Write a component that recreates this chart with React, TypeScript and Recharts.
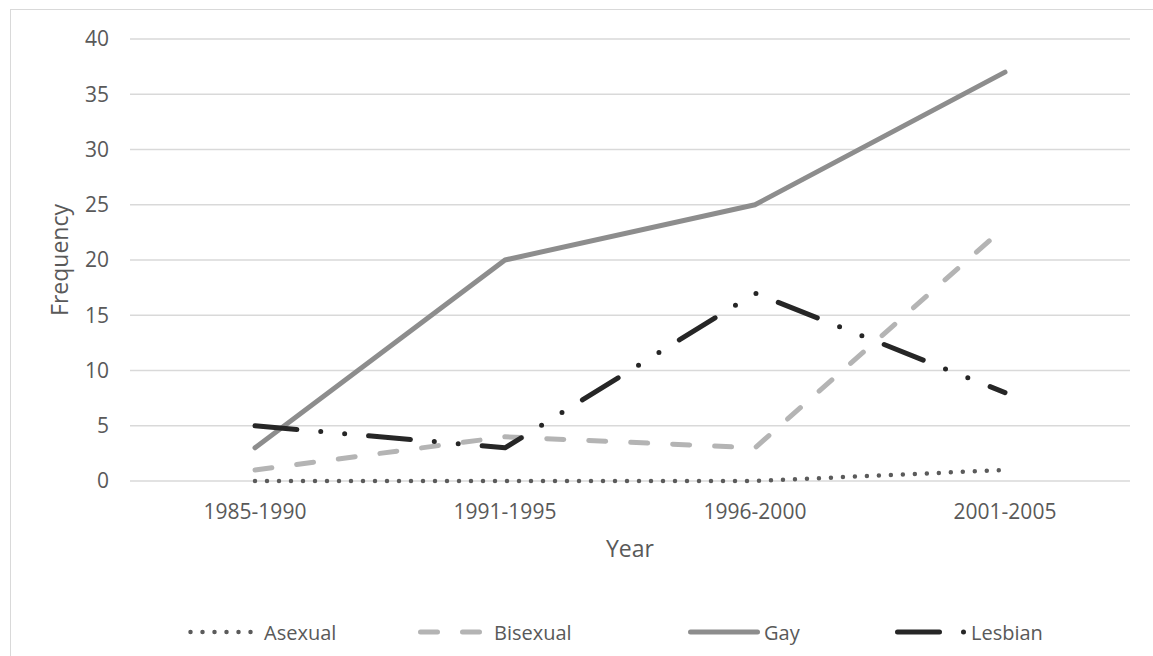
import { CartesianGrid, Label, Line, LineChart, XAxis, YAxis } from "recharts";

const YEARS = ["1985-1990", "1991-1995", "1996-2000", "2001-2005"];
const ASEXUAL = [0, 0, 0, 1];
const BISEXUAL = [1, 4, 3, 23];
const GAY = [3, 20, 25, 37];
const LESBIAN = [5, 3, 17, 8];
const Y_TICKS = [0, 5, 10, 15, 20, 25, 30, 35, 40];

const FONT = "'Open Sans', sans-serif";
const TEXT = "#595959";
const GRID = "#d9d9d9";

const SERIES = [
  { key: "Asexual", color: "#5b5b5b", width: 4.5, dash: "0 12", legendX: 188 },
  { key: "Bisexual", color: "#b4b4b4", width: 5, dash: "17 25", legendX: 418 },
  { key: "Gay", color: "#8d8d8d", width: 5, dash: undefined, legendX: 688 },
  { key: "Lesbian", color: "#262626", width: 5, dash: "42 24 0 24 0 24", legendX: 895 },
];

const data = YEARS.map((year, i) => ({
  year,
  Asexual: ASEXUAL[i],
  Bisexual: BISEXUAL[i],
  Gay: GAY[i],
  Lesbian: LESBIAN[i],
}));

function ChartLegend() {
  return (
    <>
      {SERIES.map((s) => (
        <div
          key={s.key}
          style={{
            position: "absolute",
            left: s.legendX,
            top: 620,
            height: 24,
            display: "flex",
            alignItems: "center",
            fontFamily: FONT,
            fontSize: 20,
            color: TEXT,
            whiteSpace: "nowrap",
          }}
        >
          <svg width={72} height={10} style={{ marginRight: 4 }}>
            <line
              x1={2.5}
              x2={69.5}
              y1={5}
              y2={5}
              stroke={s.color}
              strokeWidth={s.width}
              strokeDasharray={s.dash}
              strokeLinecap="round"
            />
          </svg>
          {s.key}
        </div>
      ))}
    </>
  );
}

export default function App() {
  return (
    <div style={{ position: "relative", width: 1153, height: 656, background: "#fff" }}>
      <style>{`html,body{margin:0;padding:0;overflow:hidden;background:#fff}`}</style>
      <div
        style={{
          position: "absolute",
          left: 10,
          top: 9,
          width: 1200,
          height: 700,
          borderLeft: `1.5px solid ${GRID}`,
          borderTop: `1.5px solid ${GRID}`,
          pointerEvents: "none",
        }}
      />
      <LineChart
        width={1153}
        height={656}
        data={data}
        margin={{ top: 39, right: 23, left: 50, bottom: 115 }}
      >
        <CartesianGrid horizontal vertical={false} stroke={GRID} strokeWidth={1.3} />
        <XAxis
          dataKey="year"
          height={60}
          padding={{ left: 125, right: 125 }}
          axisLine={false}
          tickLine={false}
          tickSize={0}
          tickMargin={23}
          tick={{ fill: TEXT, fontSize: 21, fontFamily: FONT }}
          interval={0}
        >
          <Label
            value="Year"
            position="bottom"
            offset={0}
            style={{ fill: TEXT, fontSize: 23, fontFamily: FONT }}
          />
        </XAxis>
        <YAxis
          width={80}
          domain={[0, 40]}
          ticks={Y_TICKS}
          interval={0}
          axisLine={false}
          tickLine={false}
          tickSize={0}
          tickMargin={21}
          tick={{ fill: TEXT, fontSize: 21, fontFamily: FONT }}
        >
          <Label
            value="Frequency"
            angle={-90}
            position="insideLeft"
            offset={10}
            style={{ fill: TEXT, fontSize: 23, fontFamily: FONT, textAnchor: "middle" }}
          />
        </YAxis>
        {SERIES.map((s) => (
          <Line
            key={s.key}
            dataKey={s.key}
            type="linear"
            stroke={s.color}
            strokeWidth={s.width}
            strokeDasharray={s.dash}
            strokeLinecap="round"
            strokeLinejoin="round"
            dot={false}
            activeDot={false}
            isAnimationActive={false}
          />
        ))}
      </LineChart>
      <ChartLegend />
    </div>
  );
}
